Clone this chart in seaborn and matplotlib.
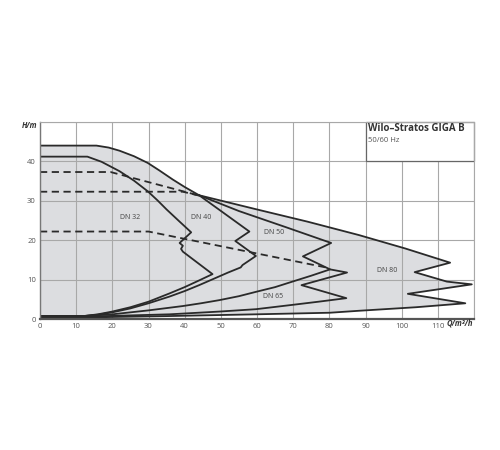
import matplotlib
matplotlib.use("Agg")
import matplotlib.pyplot as plt
import seaborn as sns
import pandas as pd
from matplotlib.patches import Rectangle

# ---- data ----
x_ticks = [0, 10, 20, 30, 40, 50, 60, 70, 80, 90, 100, 110]
y_ticks = [0, 10, 20, 30, 40]

# shared max curve (H = 44)
top_q = [0, 15.6, 19, 22, 26, 29.8, 33, 36.7, 40, 44.0]
top_h = [44, 44, 43.5, 42.7, 41.3, 39.6, 37.7, 35.4, 33.5, 31.4]

dn32_q = [0, 13.1, 17, 22, 26, 29.8, 32.5, 35.0, 38.5, 41.8, 38.6, 39.5, 39.0, 39.5, 47.7,
          44, 40, 35.8, 30, 25, 20, 16, 12, 0]
dn32_h = [41.2, 41.2, 39.9, 37.5, 35.1, 32.4, 30.1, 27.8, 24.8, 22.0, 19.3, 18.6, 17.8, 17.1, 11.4,
          9.8, 8.1, 6.5, 4.4, 3.0, 1.9, 1.2, 0.75, 0.75]

dn40_q = [44.0, 49.6, 57.9, 54.0, 59.7, 56.0, 55.5, 52, 48, 44, 40, 35.8, 30, 25, 20, 16, 12, 0]
dn40_h = [31.4, 27.7, 22.2, 19.8, 16.0, 13.7, 13.1, 11.8, 10.2, 8.6, 7.1, 5.7, 4.0, 2.7, 1.7, 1.1, 0.75, 0.75]

dn50_q = [44.0, 55, 68, 80.5, 72.7, 80.2, 75, 69.8, 65, 59.7, 55, 49.6, 44.5, 39.5, 30, 20, 12, 0]
dn50_h = [31.4, 27.4, 23.3, 19.3, 15.9, 12.6, 11.0, 9.5, 8.1, 6.9, 5.8, 4.8, 4.0, 3.3, 2.2, 1.2, 0.75, 0.75]

dn65_q = [80.2, 84.9, 72.3, 84.7, 77, 69.8, 59.7, 49.6, 35.8, 20, 12, 0]
dn65_h = [12.6, 11.8, 8.6, 5.3, 4.4, 3.6, 2.5, 1.9, 1.2, 0.8, 0.6, 0.6]

dn80_q = [44.0, 60, 74, 88.2, 101, 113.4, 103.6, 112.5, 119.4, 101.7, 117.6, 104, 88.2, 80.1,
          59.7, 35.8, 12, 0]
dn80_h = [31.4, 27.8, 24.7, 21.3, 17.9, 14.3, 11.9, 9.5, 8.8, 6.4, 4.0, 3.0, 2.1, 1.6,
          1.2, 0.76, 0.4, 0.4]

dash1_q = [0, 19.5, 44.5]
dash1_h = [37.3, 37.3, 31.2]
dash2_q = [0, 39.5, 44.5]
dash2_h = [32.3, 32.3, 31.2]
dash3_q = [0, 30, 79]
dash3_h = [22.2, 22.2, 13.1]

labels = ["DN 32", "DN 40", "DN 50", "DN 80", "DN 65"]
label_q = [24.8, 44.6, 64.7, 95.9, 64.5]
label_h = [25.7, 25.7, 21.9, 12.2, 5.6]

title = "Wilo\u2013Stratos GIGA B"
subtitle = "50/60 Hz"

# ---- style ----
sns.set_style("white")
plt.rcParams["font.family"] = ["Open Sans", "DejaVu Sans"]

fig = plt.figure(figsize=(5, 4.5), dpi=100)
ax = fig.add_axes([0.08, 0.291, 0.868, 0.438])

line_col = "#2a2a2a"
fill_col = "#dcdde0"
grid_col = "#a8a8a8"

# envelope fill
env_q = top_q + dn80_q[1:] + [0]
env_h = top_h + dn80_h[1:] + [0.4]
ax.fill(env_q, env_h, color=fill_col, zorder=1, lw=0)

def draw(q, h):
    df = pd.DataFrame({"Q": q, "H": h})
    sns.lineplot(data=df, x="Q", y="H", sort=False, estimator=None, ax=ax,
                 color=line_col, lw=1.3, zorder=2)

for q, h in [(top_q, top_h), (dn32_q, dn32_h), (dn40_q, dn40_h),
             (dn50_q, dn50_h), (dn65_q, dn65_h), (dn80_q, dn80_h)]:
    draw(q, h)
for q, h in [(dash1_q, dash1_h), (dash2_q, dash2_h), (dash3_q, dash3_h)]:
    df = pd.DataFrame({"Q": q, "H": h})
    sns.lineplot(data=df, x="Q", y="H", sort=False, estimator=None, ax=ax,
                 color=line_col, lw=1.3, zorder=2)
    ax.lines[-1].set_dashes([4, 2.5])

for t, q, h in zip(labels, label_q, label_h):
    ax.text(q, h, t, fontsize=5, color="#444444", ha="center", va="center", zorder=3)

ax.set_xlim(0, 120)
ax.set_ylim(0, 50)
ax.set_xticks(x_ticks + [120])
ax.set_yticks(y_ticks + [50])
ax.set_xticklabels([str(v) for v in x_ticks] + [""])
ax.set_yticklabels([str(v) for v in y_ticks] + [""])
ax.tick_params(axis="both", length=0, labelsize=5.5, labelcolor="#555555", pad=3)
ax.set_xlabel("")
ax.set_ylabel("")
ax.set_axisbelow("line")
ax.grid(True, color=grid_col, lw=0.8)

for s in ["top", "right"]:
    ax.spines[s].set_color(grid_col)
    ax.spines[s].set_linewidth(0.8)
ax.spines["left"].set_color("#777777")
ax.spines["left"].set_linewidth(1.0)
ax.spines["bottom"].set_color("#555555")
ax.spines["bottom"].set_linewidth(1.6)

# title box
ax.add_patch(Rectangle((90, 40), 30, 10, facecolor="white", edgecolor="#666666",
                       lw=0.9, zorder=2.5, clip_on=False))
ax.text(90.8, 48.3, title, fontsize=7, fontweight="bold", color="#333333",
        ha="left", va="center", zorder=3)
ax.text(90.8, 45.2, subtitle, fontsize=5.5, color="#555555", ha="left", va="center", zorder=3)

ax.text(-0.8, 49.2, "H/m", fontsize=5.5, fontweight="bold", fontstyle="italic",
        color="#333333", ha="right", va="center")
ax.text(119.8, -1.1, "Q/m\u00b3/h", fontsize=5.5, fontweight="bold", fontstyle="italic",
        color="#333333", ha="right", va="center")

fig.savefig("out.png", dpi=100)
